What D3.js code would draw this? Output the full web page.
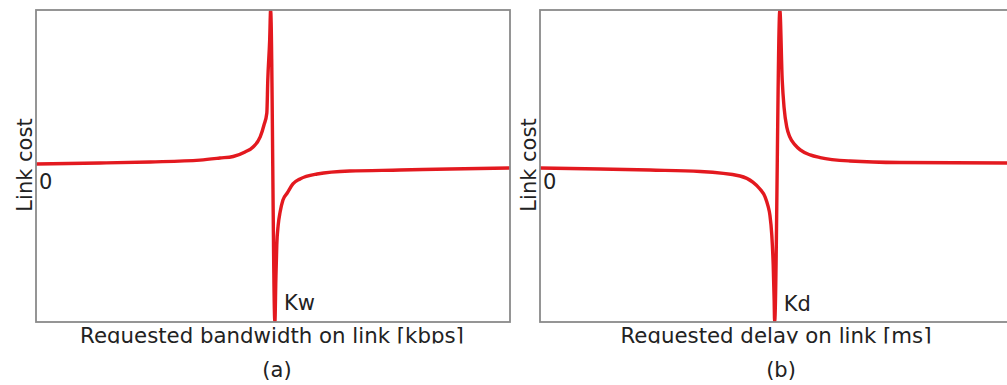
<!DOCTYPE html>
<html>
<head>
<meta charset="utf-8">
<script src="https://cdn.jsdelivr.net/npm/d3@7/dist/d3.min.js"></script>
<style>
  html, body { margin: 0; padding: 0; background: #fff; overflow: hidden; }
  svg { display: block; font-family: "DejaVu Sans", sans-serif; }
</style>
</head>
<body>
<svg id="chart" width="1007" height="385"></svg>
<script>
// Normalised request axis (0..100) and link cost (-10..10), read per panel.

// (a) bandwidth cost: rises towards Kw, then jumps to a negative branch.
const bwRequest = [0, 13.5, 24.1, 34.6, 38.8, 41.6, 44.1, 45.8, 47.3, 48.1, 48.7, 48.9, 49.3, 49.5,
                   50.4, 50.6, 50.8, 51.1, 51.5, 52.1, 53.0, 54.2, 55.7, 59.3, 66.2, 76.8, 87.3, 100];
const bwCost    = [0.13, 0.19, 0.26, 0.38, 0.51, 0.61, 0.90, 1.22, 1.86, 2.63, 3.40, 5.51, 8.08, 10.0,
                   -10.0, -7.31, -5.06, -3.78, -2.95, -2.18, -1.73, -1.15, -0.83, -0.51, -0.32, -0.26, -0.19, -0.13];

// (b) delay cost: falls towards Kd, then jumps to a positive branch.
const delayRequest = [0, 12.7, 23.2, 33.8, 42.2, 44.9, 46.4, 47.5, 48.1, 48.5, 48.9, 49.2, 49.4, 49.5,
                      50.6, 51.1, 51.5, 52.1, 52.7, 53.8, 54.9, 57.0, 59.1, 65.4, 75.9, 100];
const delayCost    = [-0.13, -0.19, -0.26, -0.35, -0.64, -1.03, -1.47, -1.99, -2.56, -3.14, -4.42, -6.35, -8.59, -10.0,
                      10.0, 5.51, 3.72, 2.44, 1.86, 1.35, 1.03, 0.71, 0.54, 0.32, 0.22, 0.19];

const panelIds     = ["a", "b"];
const xLabels      = ["Requested bandwidth on link [kbps]", "Requested delay on link [ms]"];
const yLabel       = "Link cost";
const originLabel  = "0";
const thresholdLbl = ["Kw", "Kd"];
const thresholdX   = [50.4, 49.5];
const captions     = ["(a)", "(b)"];

const panels = [
  { id: panelIds[0], xs: bwRequest, ys: bwCost, left: 36, xLabel: xLabels[0], k: thresholdLbl[0], kx: thresholdX[0], cap: captions[0] },
  { id: panelIds[1], xs: delayRequest, ys: delayCost, left: 540, xLabel: xLabels[1], k: thresholdLbl[1], kx: thresholdX[1], cap: captions[1] }
];

const svg = d3.select("#chart");
const plotTop = 10, plotBottom = 322, plotW = 474;
const fontSize = 21;
const textColor = "#222";

const defs = svg.append("defs");

panels.forEach((p, i) => {
  const x = d3.scaleLinear().domain([0, 100]).range([p.left, p.left + plotW]);
  const y = d3.scaleLinear().domain([-10, 10]).range([plotBottom, plotTop]);

  defs.append("clipPath").attr("id", "plot-" + p.id)
    .append("rect").attr("x", p.left).attr("y", plotTop).attr("width", plotW).attr("height", plotBottom - plotTop);
  defs.append("clipPath").attr("id", "label-" + p.id)
    .append("rect").attr("x", p.left - 40).attr("y", plotBottom + 2).attr("width", plotW + 80).attr("height", 343.5 - plotBottom - 2);

  const g = svg.append("g");

  const pts = p.xs.map((v, j) => [v, p.ys[j]]);
  const line = d3.line().x(d => x(d[0])).y(d => y(d[1])).curve(d3.curveMonotoneX);

  g.append("path")
    .attr("d", line(pts))
    .attr("clip-path", "url(#plot-" + p.id + ")")
    .attr("fill", "none")
    .attr("stroke", "#e3191f")
    .attr("stroke-width", 3.4)
    .attr("stroke-linejoin", "round");

  // axes frame
  g.append("rect")
    .attr("x", p.left).attr("y", plotTop)
    .attr("width", plotW).attr("height", plotBottom - plotTop)
    .attr("fill", "none")
    .attr("stroke", "#8a8a8a")
    .attr("stroke-width", 1.8);

  // origin tick label
  g.append("text")
    .attr("x", x(0) + 3).attr("y", y(0) + 23)
    .attr("font-size", fontSize).attr("fill", textColor)
    .text(originLabel);

  // threshold label next to the asymptote
  g.append("text")
    .attr("x", x(p.kx) + 9).attr("y", plotBottom - 12 + i)
    .attr("font-size", fontSize).attr("fill", textColor)
    .text(p.k);

  // y axis title
  g.append("text")
    .attr("transform", `translate(${p.left - 4},${y(0) - 1}) rotate(-90)`)
    .attr("text-anchor", "middle")
    .attr("font-size", fontSize).attr("fill", textColor)
    .text(yLabel);

  // x axis title (lower edge cropped)
  g.append("text")
    .attr("clip-path", "url(#label-" + p.id + ")")
    .attr("x", p.left + plotW / 2 - 1).attr("y", 343.3)
    .attr("text-anchor", "middle")
    .attr("font-size", 21.3).attr("fill", textColor)
    .text(p.xLabel);

  // panel caption
  g.append("text")
    .attr("x", p.left + plotW / 2 + 4).attr("y", 377)
    .attr("text-anchor", "middle")
    .attr("font-size", fontSize).attr("fill", textColor)
    .text(p.cap);
});
</script>
</body>
</html>
